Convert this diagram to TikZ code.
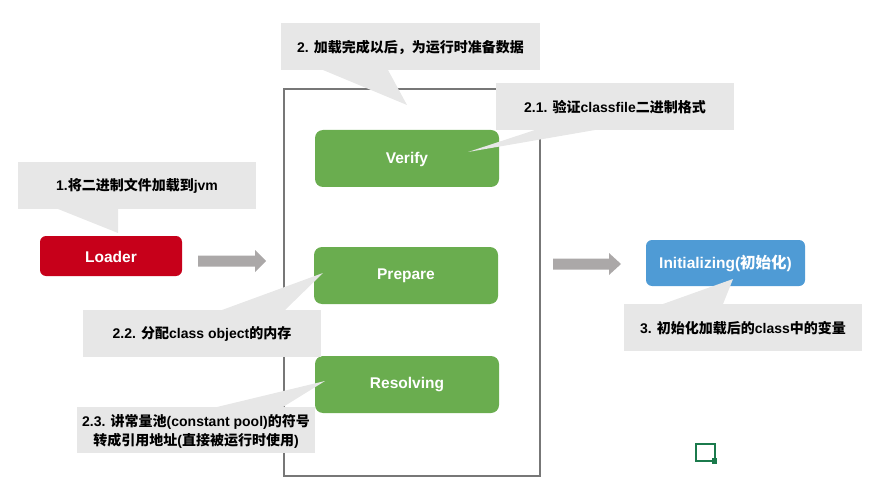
\documentclass[tikz,border=0pt]{standalone}
\usepackage{fontspec}
\setmainfont{Liberation Sans}
\newfontfamily\cjk{Noto Sans CJK SC}
\newcommand\zh[1]{{\cjk #1}}
\definecolor{boxgreen}{HTML}{6AAD4F}
\definecolor{boxred}{HTML}{C7001A}
\definecolor{boxblue}{HTML}{4F9BD5}
\definecolor{callgray}{HTML}{E7E7E7}
\definecolor{framegray}{HTML}{777777}
\definecolor{arrowgray}{HTML}{ABA8A8}
\definecolor{icongreen}{HTML}{1B7A4C}
\begin{document}
\begin{tikzpicture}[x=1pt,y=-1pt,
  stage/.style={rounded corners=7pt,text=white,font=\bfseries\fontsize{15.5}{18}\selectfont,align=center},
  callout/.style={fill=callgray,font=\bfseries\fontsize{14}{18.5}\selectfont,align=center,text=black},
  blockarrow/.style={fill=arrowgray}]
\useasboundingbox (0,0) rectangle (886,489);
% frame
\draw[framegray,line width=2.5pt] (284,89) rectangle (540,476);
% stage boxes
\fill[boxgreen,rounded corners=8pt] (315,130) rectangle (499,187);
\node[stage] (verify) at (407,159) {Verify};
\fill[boxgreen,rounded corners=8pt] (314,247) rectangle (498,304);
\node[stage] (prepare) at (406,276) {Prepare};
\fill[boxgreen,rounded corners=8pt] (315,356) rectangle (499,413);
\node[stage] (resolving) at (407,385) {Resolving};
\fill[boxred,rounded corners=6pt] (40,236) rectangle (182,276);
\node[stage] (loader) at (111,256.5) {Loader};
\fill[boxblue,rounded corners=6pt] (646,240) rectangle (805,286);
\node[stage] (init) at (725.5,263.5) {Initializing(\zh{初始化})};
% block arrows
\fill[blockarrow] (198,255.5) -- (255,255.5) -- (255,250) -- (266,261) -- (255,272) -- (255,266.5) -- (198,266.5) -- cycle;
\fill[blockarrow] (553,258.5) -- (609,258.5) -- (609,253) -- (621,264) -- (609,275) -- (609,269.5) -- (553,269.5) -- cycle;
% callouts
\fill[callgray] (58,209) -- (118,209) -- (118,233) -- cycle;
\fill[callgray] (18,162) rectangle (256,209);
\node[callout] (c1) at (137,186) {1.\zh{将二进制文件加载到}jvm};
\fill[callgray] (323,70) -- (388,70) -- (407,105) -- cycle;
\fill[callgray] (281,23) rectangle (540,70);
\node[callout] (c2) at (410.5,47) {2. \zh{加载完成以后，为运行时准备数据}};
\fill[callgray] (535,130) -- (595,130) -- (468,152) -- cycle;
\fill[callgray] (496,83) rectangle (734,130);
\node[callout] (c21) at (615,107) {2.1. \zh{验证}classfile\zh{二进制格式}};
\fill[callgray] (222,310) -- (285,310) -- (323,273) -- cycle;
\fill[callgray] (83,310) rectangle (321,357);
\node[callout] (c22) at (202,334) {2.2. \zh{分配}class object\zh{的内存}};
\fill[callgray] (217,407) -- (283,407) -- (325,381) -- cycle;
\fill[callgray] (77,407) rectangle (315,453);
\node[callout] (c23) at (196,431.5) {2.3. \zh{讲常量池}(constant pool)\zh{的符号}\\\zh{转成引用地址}(\zh{直接被运行时使用})};
\fill[callgray] (663,304) -- (723,304) -- (733,279) -- cycle;
\fill[callgray] (624,304) rectangle (862,351);
\node[callout] (c3) at (743,328) {3. \zh{初始化加载后的}class\zh{中的变量}};
% icon
\draw[icongreen,line width=2pt] (696,444) rectangle (715,461);
\fill[icongreen] (712,458) rectangle (717,464);
\end{tikzpicture}
\end{document}
